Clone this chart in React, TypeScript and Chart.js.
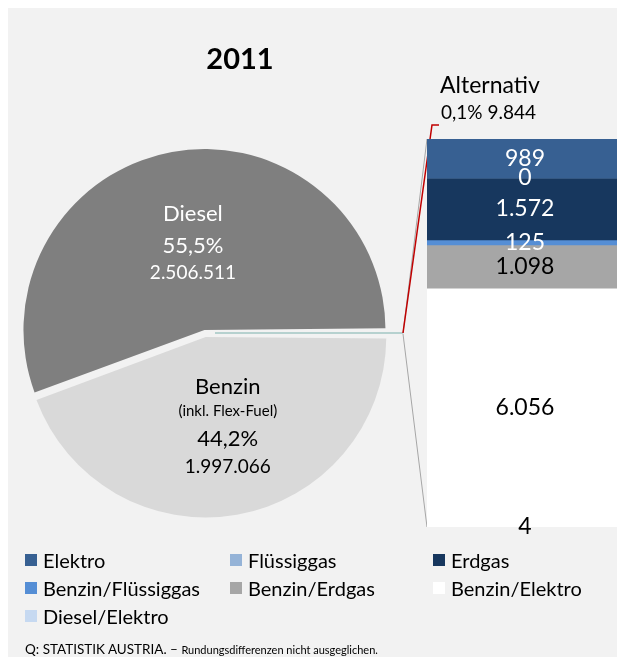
import React, { useEffect, useRef } from "react";
import { Chart, registerables } from "chart.js";

Chart.register(...registerables);

// ---- data ----
const pieCategories = ["Benzin", "Diesel", "Alternativ"];
const pieValues = [1997066, 2506511, 9844];
const piePercentLabels = ["44,2%", "55,5%", "0,1%"];
const pieSubtitles = ["(inkl. Flex-Fuel)", "", ""];
const pieColors = ["#d9d9d9", "#7f7f7f", "#a3c6c4"];

const barCategories = ["Alternativ"];
const altSeries = [
  "Elektro",
  "Flüssiggas",
  "Erdgas",
  "Benzin/Flüssiggas",
  "Benzin/Erdgas",
  "Benzin/Elektro",
  "Diesel/Elektro",
];
const altValues = [989, 0, 1572, 125, 1098, 6056, 4];
const altColors = ["#376092", "#95b3d7", "#17375e", "#558ed5", "#a6a6a6", "#ffffff", "#c6d9f1"];
const altLabelColors = ["#ffffff", "#ffffff", "#ffffff", "#ffffff", "#000000", "#000000", "#000000"];

const chartTitle = "2011";
const sourceBold = "Q: STATISTIK AUSTRIA. – ";
const sourceRest = "Rundungsdifferenzen nicht ausgeglichen.";

// ---- style ----
const FONT = "Lato, 'Noto Sans', sans-serif";
const fmt = (n: number) => String(n).replace(/\B(?=(\d{3})+(?!\d))/g, ".");

const BAR_LEFT = 419;
const BAR_TOP = 101;
const BAR_W = 196;
const BAR_H = 448;
const BAR_PAD = 30;

export default function App() {
  const pieRef = useRef<HTMLCanvasElement>(null);
  const barRef = useRef<HTMLCanvasElement>(null);

  useEffect(() => {
    const barLabelPlugin = {
      id: "barLabels",
      afterDatasetsDraw(chart: any) {
        const ctx = chart.ctx;
        ctx.save();
        ctx.font = `23px ${FONT}`;
        ctx.textAlign = "center";
        ctx.textBaseline = "middle";
        chart.data.datasets.forEach((ds: any, i: number) => {
          const el = chart.getDatasetMeta(i).data[0];
          if (!el) return;
          const y = (el.y + el.base) / 2;
          ctx.fillStyle = altLabelColors[i];
          ctx.fillText(fmt(ds.data[0]), el.x, y);
        });
        ctx.restore();
      },
    };

    const barChart = new Chart(barRef.current!, {
      type: "bar",
      data: {
        labels: barCategories,
        datasets: altSeries.map((name, i) => ({
          label: name,
          data: [altValues[i]],
          backgroundColor: altColors[i],
          borderWidth: 0,
          barPercentage: 1,
          categoryPercentage: 1,
          stack: "alt",
        })),
      },
      options: {
        responsive: true,
        maintainAspectRatio: false,
        animation: false,
        layout: { padding: { top: BAR_PAD, bottom: BAR_PAD, left: 0, right: 0 } },
        plugins: { legend: { display: false }, tooltip: { enabled: false }, title: { display: false } },
        scales: {
          x: { stacked: true, display: false },
          y: {
            stacked: true,
            display: false,
            reverse: true,
            min: 0,
            max: altValues.reduce((a, b) => a + b, 0),
          },
        },
      },
      plugins: [barLabelPlugin],
    });

    const pieLabelPlugin = {
      id: "pieLabels",
      afterDatasetsDraw(chart: any) {
        const ctx = chart.ctx;
        const meta = chart.getDatasetMeta(0);
        ctx.save();
        ctx.textAlign = "center";
        ctx.textBaseline = "middle";

        // Diesel
        const d = meta.data[1].tooltipPosition(false);
        ctx.fillStyle = "#ffffff";
        ctx.font = `22px ${FONT}`;
        ctx.fillText(pieCategories[1], d.x + 5, d.y - 26);
        ctx.fillText(piePercentLabels[1], d.x + 5, d.y + 6);
        ctx.font = `19px ${FONT}`;
        ctx.fillText(fmt(pieValues[1]), d.x + 5, d.y + 33);

        // Benzin
        const b = meta.data[0].tooltipPosition(false);
        ctx.fillStyle = "#000000";
        ctx.font = `22px ${FONT}`;
        ctx.fillText(pieCategories[0], b.x + 6, b.y - 42);
        ctx.font = `15px ${FONT}`;
        ctx.fillText(pieSubtitles[0], b.x + 6, b.y - 17);
        ctx.font = `22px ${FONT}`;
        ctx.fillText(piePercentLabels[0], b.x + 6, b.y + 10);
        ctx.font = `19px ${FONT}`;
        ctx.fillText(fmt(pieValues[0]), b.x + 6, b.y + 38);

        // Alternativ slice outer point
        const a = meta.data[2];
        const mid = (a.startAngle + a.endAngle) / 2;
        const off = (a.options.offset || 0) / 2;
        const ax = a.x + Math.cos(mid) * (a.outerRadius + off);
        const ay = a.y + Math.sin(mid) * (a.outerRadius + off);

        // bar corners from bar chart
        const bMeta0 = barChart.getDatasetMeta(0).data[0] as any;
        const bMetaN = barChart.getDatasetMeta(altSeries.length - 1).data[0] as any;
        const barLeft = BAR_LEFT + bMeta0.x - bMeta0.width / 2;
        const barTop = BAR_TOP + Math.min(bMeta0.y, bMeta0.base);
        const barBottom = BAR_TOP + Math.max(bMetaN.y, bMetaN.base);

        // gray series lines
        ctx.strokeStyle = "#a6a6a6";
        ctx.lineWidth = 1;
        ctx.beginPath();
        ctx.moveTo(ax, ay + 1);
        ctx.lineTo(barLeft, barBottom);
        ctx.stroke();
        ctx.beginPath();
        ctx.moveTo(ax, ay);
        ctx.lineTo(barLeft, barTop);
        ctx.stroke();

        // Alternativ label
        const lx = 432;
        const ly1 = 78;
        const ly2 = 105;
        ctx.textAlign = "left";
        ctx.fillStyle = "#000000";
        ctx.font = `23px ${FONT}`;
        ctx.fillText(pieCategories[2], lx, ly1);
        ctx.font = `19px ${FONT}`;
        ctx.fillText(`${piePercentLabels[2]} ${fmt(pieValues[2])}`, lx + 1, ly2);

        // red leader line
        ctx.strokeStyle = "#c00000";
        ctx.lineWidth = 1.5;
        ctx.beginPath();
        ctx.moveTo(ax, ay);
        ctx.lineTo(lx - 8, ly2 + 12);
        ctx.lineTo(lx - 1, ly2 + 12);
        ctx.stroke();
        ctx.restore();
      },
    };

    const pieChart = new Chart(pieRef.current!, {
      type: "pie",
      data: {
        labels: pieCategories,
        datasets: [
          {
            data: pieValues,
            backgroundColor: pieColors,
            borderColor: pieColors,
            borderWidth: [0, 0, 1.5],
            offset: [16, 12, 40],
            radius: 178,
          } as any,
        ],
      },
      options: {
        responsive: true,
        maintainAspectRatio: false,
        animation: false,
        rotation: 90.39,
        layout: { padding: { left: 0, right: 215, top: 0, bottom: 0 } },
        plugins: { legend: { display: false }, tooltip: { enabled: false }, title: { display: false } },
      } as any,
      plugins: [pieLabelPlugin],
    });

    return () => {
      pieChart.destroy();
      barChart.destroy();
    };
  }, []);

  const legendItem = (i: number) => (
    <div key={i} style={{ display: "flex", alignItems: "center", height: 28 }}>
      <span style={{ width: 12, height: 12, background: altColors[i], marginRight: 6, flex: "none" }} />
      <span style={{ fontSize: 20, color: "#000", whiteSpace: "nowrap" }}>{altSeries[i]}</span>
    </div>
  );

  return (
    <div
      style={{
        position: "fixed",
        left: 8,
        top: 8,
        width: 609,
        height: 649,
        background: "#f2f2f2",
        overflow: "hidden",
        fontFamily: FONT,
      }}
    >
      <div style={{ position: "absolute", left: 0, top: 0, width: 609, height: 650 }}>
        <canvas ref={pieRef} />
      </div>
      <div style={{ position: "absolute", left: BAR_LEFT, top: BAR_TOP, width: BAR_W, height: BAR_H }}>
        <canvas ref={barRef} />
      </div>
      <div
        style={{
          position: "absolute",
          left: 132,
          top: 35,
          width: 200,
          textAlign: "center",
          fontWeight: 700,
          fontSize: 29,
          lineHeight: "30px",
        }}
      >
        {chartTitle}
      </div>
      <div
        style={{
          position: "absolute",
          left: 17,
          top: 538,
          display: "grid",
          gridTemplateColumns: "205px 203px 180px",
        }}
      >
        {altSeries.map((_, i) => legendItem(i))}
      </div>
      <div style={{ position: "absolute", left: 17, top: 631, whiteSpace: "nowrap", lineHeight: "18px" }}>
        <span style={{ fontSize: 13.5 }}>{sourceBold}</span>
        <span style={{ fontSize: 11 }}>{sourceRest}</span>
      </div>
    </div>
  );
}
